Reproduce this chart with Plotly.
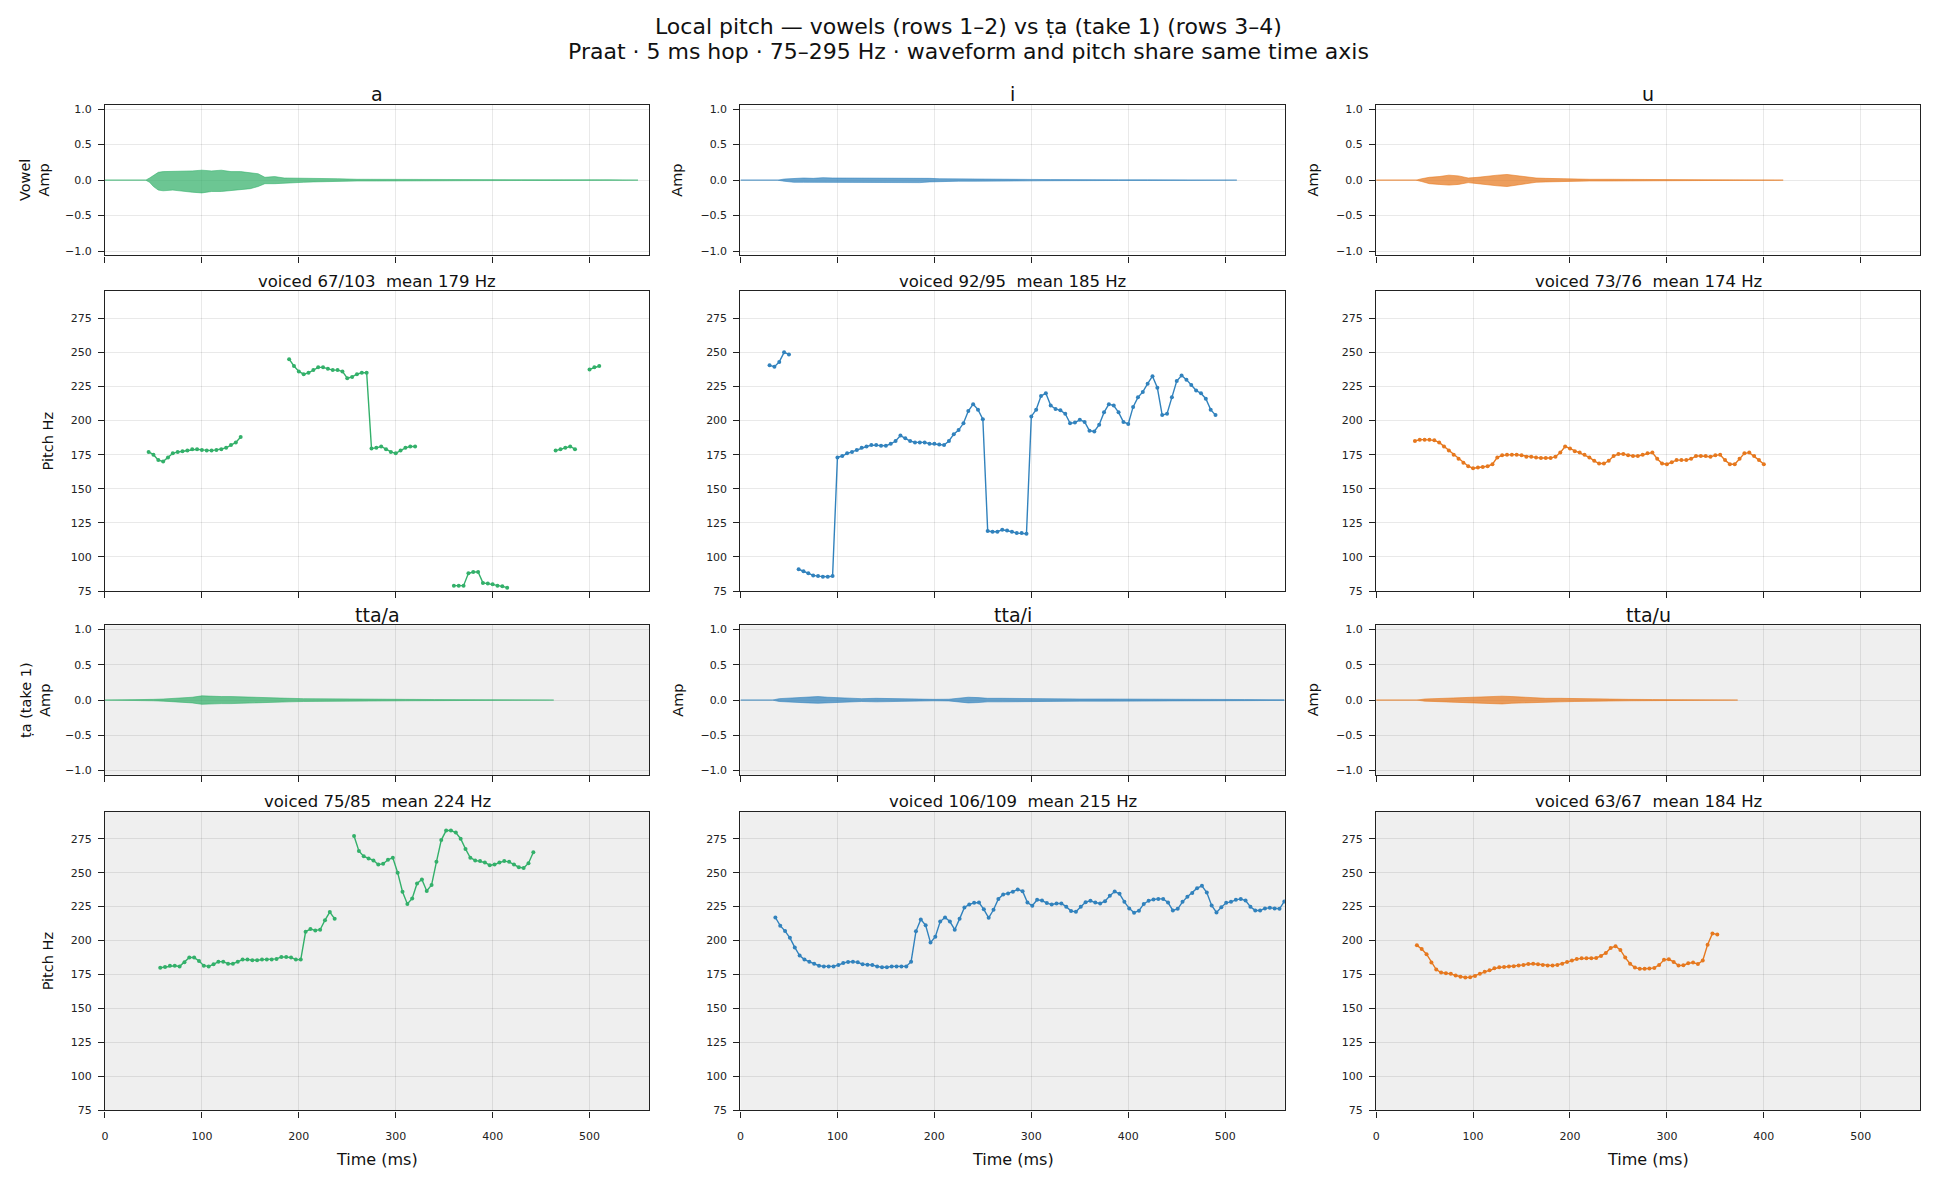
import plotly.graph_objects as go

FONT = "DejaVu Sans"
W, H = 1935, 1186
HOP_MS = 5

# ---------------- colours ----------------
COL = {"a": "#33b06a", "i": "#3182bd", "u": "#e6781e"}
WAVE_RGBA = {"a": "rgba(51,176,106,0.72)", "i": "rgba(49,130,189,0.72)", "u": "rgba(230,120,30,0.72)"}

# ---------------- pitch data (Hz), 5 ms frames; segments = voiced runs ----------------
a_seg_start = [45, 190, 360, 465, 500]
a_segs = [
    [177, 175, 171, 170, 173, 176, 177, 177.5, 178, 179, 179, 178.5, 178, 178, 178.5, 179, 180, 182, 184, 188],
    [245, 240, 236, 234, 235, 237, 239, 239, 238, 237, 237, 236, 231, 232, 234, 235, 235, 179.5, 180, 181,
     179, 177, 176, 178, 180, 181, 181],
    [79, 79, 79, 88, 89, 89, 81, 80.5, 80, 79, 78.5, 77.5],
    [178, 179, 180, 181, 179],
    [237.5, 239, 240],
]

i_seg_start = [30, 60]
i_segs = [
    [240.5, 239.5, 243, 250, 248.5],
    [91, 89.5, 88, 86.5, 86, 85.5, 85.5, 86,
     173, 174, 176, 177, 178.5, 180, 181, 182, 182, 181.5, 181.5, 183, 185, 189, 187, 185, 184, 184, 184, 183,
     183, 182.5, 182, 185, 190, 193, 198, 207, 212, 208, 201,
     119, 118.5, 118.5, 120, 119.5, 118.5, 117.5, 117.5, 117,
     203, 208, 218, 220, 211, 208.5, 207.5, 205, 198, 198.5, 200.5, 199, 192.5, 192, 197, 206, 212, 211, 206,
     199, 197.5, 210, 217, 221, 227, 232.5, 224, 204, 205, 217, 229, 233, 230, 226, 222, 220, 216, 208, 204],
]

u_seg_start = [40]
u_segs = [
    [185, 186, 186, 186, 185.5, 184, 181, 178, 175, 172, 169, 166.5, 165, 165.5, 166, 166.5, 168, 173, 174.5,
     175, 175, 175, 174.5, 173.5, 173.5, 173, 172.5, 172.5, 172.5, 173.5, 176.5, 181, 179.5, 177.5, 176.5, 175,
     173, 170.5, 168.5, 168.5, 170.5, 174, 175.5, 175.5, 174.5, 174, 174, 175, 176, 176.5, 172, 168.5, 168,
     169.5, 171, 171, 171, 172, 174, 174, 174, 173.5, 174.5, 175, 171, 168, 168, 172, 176, 176.5, 174, 171, 168],
]

tta_a_seg_start = [57, 257]
tta_a_segs = [
    [180, 180.5, 181.5, 181.5, 181, 184, 187.5, 187.5, 185, 181.5, 181, 182.5, 184.5, 184.5, 183, 183, 184.5,
     186, 186, 185.5, 185.5, 186, 186, 186, 186.5, 188, 188, 187.5, 186, 186, 206.5, 208.5, 207.5, 208, 215,
     221, 216],
    [277, 266, 262, 260.5, 259, 256, 256.5, 259.5, 261, 250, 236, 227, 231, 242, 245, 236.5, 241, 258, 274,
     281, 281, 279.5, 275, 267.5, 261, 259, 258.5, 257.5, 255.5, 256, 257.5, 258.5, 258, 256, 254, 253.5, 257,
     265],
]

tta_i_seg_start = [36]
tta_i_segs = [
    [217, 211, 207, 202, 195, 189, 186, 184.5, 183, 181.5, 181, 181, 181, 182, 183.5, 184.3, 184.5, 184, 182.6,
     182.3, 182, 181, 180.4, 180.4, 181, 181, 181, 181, 184.5, 206.8, 215.6, 211.2, 198.5, 202.9, 214, 217,
     214, 208, 216, 224.4, 226.6, 227.8, 228, 223, 216.8, 222.7, 230.7, 234, 234.7, 236, 237.6, 236.4, 228,
     225.6, 230, 229.5, 227.6, 226.6, 227.3, 227.3, 225, 221.7, 221.2, 224.9, 228.3, 229.3, 228, 227.3, 229,
     233, 236.1, 234.4, 228.5, 223.7, 220.5, 222, 227, 229.3, 230.3, 230.7, 230.7, 228, 222.2, 223.4, 228.5,
     232.2, 235.1, 238.6, 240.3, 235.4, 225.9, 220.7, 224.6, 227.8, 228.5, 230, 230.7, 229.5, 224.9, 222.2,
     222.2, 223.7, 224.1, 223.7, 223.4, 228.8],
]

tta_u_seg_start = [42]
tta_u_segs = [
    [196.5, 193.8, 190, 183.8, 178.7, 176.5, 176, 175.5, 174.3, 173.3, 172.8, 173, 174, 175.5, 177, 178.2,
     179.6, 180.4, 180.6, 180.9, 181.1, 181.6, 182.1, 182.8, 183, 182.6, 182.1, 181.6, 181.6, 182.1, 183,
     184.3, 185.3, 186.5, 187, 187, 187, 187.2, 188.7, 190.9, 194.6, 195.8, 193.1, 187.5, 183, 180.1, 179.2,
     179.2, 179.4, 179.9, 182.1, 185.8, 186.2, 184.3, 181.6, 181.8, 183.3, 183.8, 182.8, 185.3, 197, 205.3,
     204.4],
]

# ---------------- waveform envelopes (amplitude) ----------------
wf_a_t = [0, 42, 46, 50, 55, 60, 70, 80, 90, 100, 110, 120, 130, 140, 150, 158, 165, 175, 185, 195, 205, 215,
          225, 240, 260, 280, 300, 320, 340, 360, 380, 400, 430, 460, 490, 520, 550]
wf_a_hi = [0, 0, 0.03, 0.07, 0.11, 0.12, 0.12, 0.13, 0.13, 0.14, 0.13, 0.14, 0.12, 0.12, 0.10, 0.09, 0.04, 0.05,
           0.03, 0.03, 0.025, 0.025, 0.02, 0.02, 0.012, 0.012, 0.01, 0.01, 0.008, 0.007, 0.006, 0.006, 0.005,
           0.005, 0.004, 0.004, 0]
wf_a_lo = [0, 0, -0.03, -0.09, -0.14, -0.15, -0.14, -0.16, -0.17, -0.18, -0.16, -0.16, -0.15, -0.14, -0.12,
           -0.09, -0.05, -0.05, -0.04, -0.03, -0.03, -0.025, -0.02, -0.02, -0.012, -0.012, -0.01, -0.01, -0.008,
           -0.007, -0.006, -0.006, -0.005, -0.005, -0.004, -0.004, 0]

wf_i_t = [0, 38, 45, 55, 65, 75, 85, 95, 105, 115, 125, 135, 145, 155, 165, 175, 185, 195, 205, 215, 225, 240,
          260, 280, 300, 320, 340, 360, 390, 420, 450, 480, 512]
wf_i_hi = [0, 0, 0.015, 0.025, 0.03, 0.025, 0.035, 0.03, 0.03, 0.035, 0.03, 0.03, 0.025, 0.03, 0.025, 0.03,
           0.035, 0.025, 0.02, 0.02, 0.015, 0.015, 0.01, 0.01, 0.01, 0.008, 0.01, 0.006, 0.005, 0.005, 0.004,
           0.004, 0]
wf_i_lo = [0, 0, -0.015, -0.03, -0.03, -0.03, -0.035, -0.035, -0.03, -0.04, -0.03, -0.035, -0.03, -0.03, -0.03,
           -0.03, -0.035, -0.025, -0.02, -0.02, -0.015, -0.015, -0.01, -0.01, -0.01, -0.008, -0.01, -0.006,
           -0.005, -0.005, -0.004, -0.004, 0]

wf_u_t = [0, 41, 47, 55, 65, 75, 85, 95, 105, 115, 125, 135, 145, 155, 165, 175, 185, 200, 220, 240, 260, 280,
          300, 330, 360, 390, 420]
wf_u_hi = [0, 0, 0.02, 0.04, 0.05, 0.07, 0.06, 0.03, 0.04, 0.06, 0.07, 0.08, 0.06, 0.04, 0.03, 0.025, 0.02,
           0.015, 0.012, 0.012, 0.01, 0.01, 0.006, 0.005, 0.005, 0.004, 0]
wf_u_lo = [0, 0, -0.02, -0.05, -0.06, -0.07, -0.06, -0.035, -0.05, -0.07, -0.08, -0.09, -0.07, -0.04, -0.03,
           -0.025, -0.02, -0.015, -0.012, -0.012, -0.01, -0.01, -0.006, -0.005, -0.005, -0.004, 0]

wf_tta_a_t = [0, 42, 50, 60, 70, 80, 90, 100, 110, 120, 130, 140, 150, 160, 175, 190, 205, 220, 240, 260, 285,
              310, 340, 370, 400, 430, 463]
wf_tta_a_hi = [0, 0, 0.01, 0.015, 0.02, 0.03, 0.04, 0.06, 0.05, 0.05, 0.05, 0.045, 0.04, 0.03, 0.03, 0.025,
               0.02, 0.02, 0.015, 0.015, 0.012, 0.01, 0.008, 0.006, 0.005, 0.004, 0]
wf_tta_a_lo = [0, 0, -0.01, -0.015, -0.02, -0.03, -0.04, -0.06, -0.05, -0.05, -0.05, -0.045, -0.04, -0.03,
               -0.03, -0.025, -0.02, -0.02, -0.015, -0.015, -0.012, -0.01, -0.008, -0.006, -0.005, -0.004, 0]

wf_tta_i_t = [0, 33, 40, 50, 60, 70, 80, 90, 100, 112, 125, 140, 155, 170, 185, 200, 215, 225, 235, 245, 255,
              270, 290, 310, 330, 350, 375, 400, 430, 460, 490, 520, 561]
wf_tta_i_hi = [0, 0, 0.02, 0.03, 0.03, 0.04, 0.05, 0.04, 0.035, 0.03, 0.02, 0.025, 0.02, 0.02, 0.015, 0.01,
               0.012, 0.03, 0.04, 0.035, 0.025, 0.025, 0.02, 0.025, 0.02, 0.015, 0.015, 0.012, 0.01, 0.01, 0.01,
               0.008, 0.005]
wf_tta_i_lo = [0, 0, -0.02, -0.03, -0.035, -0.04, -0.045, -0.04, -0.035, -0.03, -0.02, -0.025, -0.02, -0.02,
               -0.015, -0.01, -0.012, -0.03, -0.04, -0.035, -0.025, -0.025, -0.02, -0.025, -0.02, -0.015, -0.015,
               -0.012, -0.01, -0.01, -0.01, -0.008, -0.005]

wf_tta_u_t = [0, 42, 50, 60, 70, 80, 90, 100, 110, 120, 130, 140, 150, 160, 175, 190, 205, 220, 240, 260, 285,
              310, 340, 373]
wf_tta_u_hi = [0, 0, 0.015, 0.02, 0.025, 0.03, 0.035, 0.045, 0.05, 0.06, 0.055, 0.05, 0.04, 0.03, 0.025, 0.025,
               0.02, 0.015, 0.012, 0.01, 0.008, 0.006, 0.005, 0]
wf_tta_u_lo = [0, 0, -0.015, -0.02, -0.025, -0.03, -0.04, -0.045, -0.05, -0.055, -0.055, -0.045, -0.04, -0.03,
               -0.025, -0.025, -0.02, -0.015, -0.012, -0.01, -0.008, -0.006, -0.005, 0]

# ---------------- labels ----------------
col_titles_top = ["a", "i", "u"]
col_titles_tta = ["tta/a", "tta/i", "tta/u"]
pitch_titles_vowel = ["voiced 67/103\u00a0 mean 179 Hz", "voiced 92/95\u00a0 mean 185 Hz", "voiced 73/76\u00a0 mean 174 Hz"]
pitch_titles_tta = ["voiced 75/85\u00a0 mean 224 Hz", "voiced 106/109\u00a0 mean 215 Hz", "voiced 63/67\u00a0 mean 184 Hz"]
x_ticks = [0, 100, 200, 300, 400, 500]
amp_ticks = [-1.0, -0.5, 0.0, 0.5, 1.0]
amp_ticktext = ["\u22121.0", "\u22120.5", "0.0", "0.5", "1.0"]
pitch_ticks = [75, 100, 125, 150, 175, 200, 225, 250, 275]

# ---------------- layout geometry ----------------
XD = [[0.0523, 0.3341], [0.3814, 0.6633], [0.7106, 0.9924]]
YD = [[0.7847, 0.9126], [0.4995, 0.7545], [0.3434, 0.4704], [0.0583, 0.3122]]
XRANGE = [0, 561.5]

fig = go.Figure()


def ax_id(r, c):
    n = r * 3 + c + 1
    return ("" if n == 1 else str(n)), n


def add_wave(r, c, t, hi, lo, key):
    s, _ = ax_id(r, c)
    rgba = WAVE_RGBA[key]
    fig.add_trace(go.Scatter(x=t, y=hi, mode="lines", line=dict(color=rgba, width=0.8),
                             xaxis="x" + s, yaxis="y" + s, showlegend=False, hoverinfo="skip"))
    fig.add_trace(go.Scatter(x=t, y=lo, mode="lines", line=dict(color=rgba, width=0.8),
                             fill="tonexty", fillcolor=rgba,
                             xaxis="x" + s, yaxis="y" + s, showlegend=False, hoverinfo="skip"))


def add_pitch(r, c, starts, segs, key):
    s, _ = ax_id(r, c)
    xs, ys = [], []
    for t0, seg in zip(starts, segs):
        for k, v in enumerate(seg):
            xs.append(t0 + HOP_MS * k)
            ys.append(v)
        xs.append(None)
        ys.append(None)
    fig.add_trace(go.Scatter(x=xs, y=ys, mode="lines+markers", connectgaps=False,
                             line=dict(color=COL[key], width=1.4),
                             marker=dict(color=COL[key], size=4),
                             xaxis="x" + s, yaxis="y" + s, showlegend=False))


keys = ["a", "i", "u"]
waves_v = [(wf_a_t, wf_a_hi, wf_a_lo), (wf_i_t, wf_i_hi, wf_i_lo), (wf_u_t, wf_u_hi, wf_u_lo)]
waves_t = [(wf_tta_a_t, wf_tta_a_hi, wf_tta_a_lo), (wf_tta_i_t, wf_tta_i_hi, wf_tta_i_lo),
           (wf_tta_u_t, wf_tta_u_hi, wf_tta_u_lo)]
pitch_v = [(a_seg_start, a_segs), (i_seg_start, i_segs), (u_seg_start, u_segs)]
pitch_t = [(tta_a_seg_start, tta_a_segs), (tta_i_seg_start, tta_i_segs), (tta_u_seg_start, tta_u_segs)]

for c in range(3):
    add_wave(0, c, *waves_v[c], keys[c])
    add_pitch(1, c, *pitch_v[c], keys[c])
    add_wave(2, c, *waves_t[c], keys[c])
    add_pitch(3, c, *pitch_t[c], keys[c])

TICKFONT = dict(family=FONT, size=11, color="#222222")
GRID = "rgba(0,0,0,0.085)"
layout = {}
shapes = []
for r in range(4):
    for c in range(3):
        s, n = ax_id(r, c)
        is_amp = r in (0, 2)
        layout["xaxis" + s] = dict(
            domain=XD[c], anchor="y" + s, range=XRANGE, tickvals=x_ticks,
            showticklabels=(r == 3), ticks="outside", ticklen=6, tickwidth=1.1, tickcolor="#222",
            ticklabelstandoff=9,
            showline=True, linecolor="#222", linewidth=1.3, mirror=True,
            showgrid=True, gridcolor=GRID, gridwidth=1, zeroline=False, tickfont=TICKFONT,
        )
        ydict = dict(
            domain=YD[r], anchor="x" + s, ticks="outside", ticklen=6, tickwidth=1.1, tickcolor="#222",
            ticklabelstandoff=4,
            showline=True, linecolor="#222", linewidth=1.3, mirror=True,
            showgrid=True, gridcolor=GRID, gridwidth=1, zeroline=False, tickfont=TICKFONT,
        )
        if is_amp:
            ydict.update(range=[-1.06, 1.06], tickvals=amp_ticks, ticktext=amp_ticktext)
        else:
            ydict.update(range=[75, 295], tickvals=pitch_ticks)
        layout["yaxis" + s] = ydict
        if r >= 2:
            shapes.append(dict(type="rect", xref="x" + s + " domain", yref="y" + s + " domain",
                               x0=0, x1=1, y0=0, y1=1, fillcolor="#efefef", line=dict(width=0),
                               layer="below"))

ann = []


def py(px):
    return 1 - px / H


def px_x(px):
    return px / W


# suptitle
ann.append(dict(text="Local pitch \u2014 vowels (rows 1\u20132) vs \u1e6da (take 1) (rows 3\u20134)",
                x=0.4997, y=py(25), xref="paper", yref="paper", showarrow=False,
                xanchor="center", yanchor="middle", font=dict(family=FONT, size=22, color="#111")))
ann.append(dict(text="Praat \u00b7 5 ms hop \u00b7 75\u2013295 Hz \u00b7 waveform and pitch share same time axis",
                x=0.4997, y=py(50), xref="paper", yref="paper", showarrow=False,
                xanchor="center", yanchor="middle", font=dict(family=FONT, size=22, color="#111")))

col_centers = [(XD[c][0] + XD[c][1]) / 2 for c in range(3)]
for c in range(3):
    ann.append(dict(text=col_titles_top[c], x=col_centers[c], y=py(93), xref="paper", yref="paper",
                    showarrow=False, xanchor="center", yanchor="middle",
                    font=dict(family=FONT, size=19, color="#111")))
    ann.append(dict(text=pitch_titles_vowel[c], x=col_centers[c], y=py(282), xref="paper", yref="paper",
                    showarrow=False, xanchor="center", yanchor="middle",
                    font=dict(family=FONT, size=16.5, color="#111")))
    ann.append(dict(text=col_titles_tta[c], x=col_centers[c], y=py(618), xref="paper", yref="paper",
                    showarrow=False, xanchor="center", yanchor="middle",
                    font=dict(family=FONT, size=19, color="#111")))
    ann.append(dict(text=pitch_titles_tta[c], x=col_centers[c], y=py(806), xref="paper", yref="paper",
                    showarrow=False, xanchor="center", yanchor="middle",
                    font=dict(family=FONT, size=16.5, color="#111")))
    ann.append(dict(text="Time (ms)", x=col_centers[c], y=py(1166), xref="paper", yref="paper",
                    showarrow=False, xanchor="center", yanchor="middle",
                    font=dict(family=FONT, size=16, color="#111")))

row_centers = [(YD[r][0] + YD[r][1]) / 2 for r in range(4)]
ylab = [
    (0, 30, "Vowel<br>Amp"), (1, 44.5, "Pitch Hz"), (2, 31, "\u1e6da (take 1)<br>Amp"), (3, 44.5, "Pitch Hz"),
]
for r, xpx, txt in ylab:
    ann.append(dict(text=txt, x=px_x(xpx), y=row_centers[r], xref="paper", yref="paper", showarrow=False,
                    textangle=-90, xanchor="center", yanchor="middle",
                    font=dict(family=FONT, size=14.5, color="#111")))
for r in (0, 2):
    for xpx in (675, 1312):
        ann.append(dict(text="Amp", x=px_x(xpx), y=row_centers[r], xref="paper", yref="paper",
                        showarrow=False, textangle=-90, xanchor="center", yanchor="middle",
                        font=dict(family=FONT, size=14.5, color="#111")))

fig.update_layout(
    width=W, height=H, margin=dict(l=0, r=0, t=0, b=0),
    paper_bgcolor="white", plot_bgcolor="rgba(0,0,0,0)",
    font=dict(family=FONT, color="#111"),
    annotations=ann, shapes=shapes, showlegend=False,
    **layout,
)

fig.write_html("out.html")
